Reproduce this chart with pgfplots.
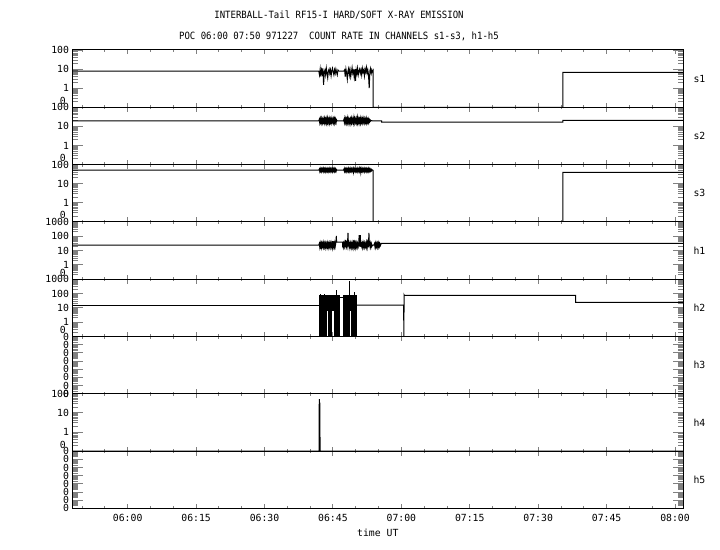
\documentclass[border=0pt]{standalone}
\usepackage{fontspec}
\setmainfont{DejaVu Sans Mono}
\newfontfamily\titlefont[FakeStretch=0.9]{DejaVu Sans Mono}
\usepackage{pgfplots}
\pgfplotsset{compat=1.18}
\pgfplotsset{
  mypanel/.style={
    anchor=north west,
    scale only axis, width=610.5bp, height=57.3bp,
    xmin=347.9, xmax=481.75,
    xtick={360,375,390,405,420,435,450,465,480},
    minor xtick={350,355,365,370,380,385,395,400,410,415,425,430,440,445,455,460,470,475},
    xticklabels={},
    tick align=inside,
    xtick pos=both, ytick pos=both,
    xtick style={/pgfplots/major tick length=4.5bp, /pgfplots/minor tick length=2.2bp},
    ytick style={/pgfplots/major tick length=10bp, /pgfplots/minor tick length=5bp},
    every tick/.append style={line width=0.9bp},
    axis line style={line width=1bp},
    tick label style={font=\fontsize{9.8bp}{10bp}\selectfont},
    clip mode=individual,
  },
  typeA/.style={
    ymin=0.1, ymax=100,
    ytick={1,10,100}, yticklabels={1,10,100},
    minor ytick={0.2,0.3,0.4,0.5,0.6,0.7,0.8,0.9,2,3,4,5,6,7,8,9,20,30,40,50,60,70,80,90},
  },
  typeB/.style={
    ymin=0.1, ymax=1000,
    ytick={1,10,100,1000}, yticklabels={1,10,100,1000},
    minor ytick={0.2,0.3,0.4,0.5,0.6,0.7,0.8,0.9,2,3,4,5,6,7,8,9,20,30,40,50,60,70,80,90,200,300,400,500,600,700,800,900},
  },
  typeC/.style={
    ymin=1e-7, ymax=1,
    ytick={1e-7,1e-6,1e-5,1e-4,1e-3,1e-2,1e-1,1}, yticklabels={0,0,0,0,0,0,0,0},
    minor ytick={2e-7,3e-7,4e-7,5e-7,6e-7,7e-7,8e-7,9e-7,
      2e-6,3e-6,4e-6,5e-6,6e-6,7e-6,8e-6,9e-6,
      2e-5,3e-5,4e-5,5e-5,6e-5,7e-5,8e-5,9e-5,
      2e-4,3e-4,4e-4,5e-4,6e-4,7e-4,8e-4,9e-4,
      2e-3,3e-3,4e-3,5e-3,6e-3,7e-3,8e-3,9e-3,
      2e-2,3e-2,4e-2,5e-2,6e-2,7e-2,8e-2,9e-2,
      0.2,0.3,0.4,0.5,0.6,0.7,0.8,0.9},
  },
  dat/.style={black, line width=1bp, mark=none},
}
\newcommand{\chlabel}[1]{\node[anchor=west, font=\fontsize{9.8bp}{10bp}\selectfont, xshift=7bp] at (rel axis cs:1,0.5) {#1};}
\newcommand{\zerolabel}{\node[anchor=east, font=\fontsize{9.8bp}{10bp}\selectfont, xshift=-3.3bp, yshift=6.5bp] at (rel axis cs:0,0) {0};}
\begin{document}
\begin{tikzpicture}
\path[use as bounding box] (0,0) rectangle (720bp,550bp);
\node[font=\titlefont\fontsize{10bp}{12bp}\selectfont] at (339bp,535bp) {INTERBALL-Tail RF15-I HARD/SOFT X-RAY EMISSION};
\node[font=\titlefont\fontsize{10bp}{12bp}\selectfont] at (339bp,514bp) {POC 06:00 07:50 971227\ \ COUNT RATE IN CHANNELS s1-s3, h1-h5};

% s1
\begin{axis}[ymode=log, at={(72.5bp,500bp)}, mypanel, typeA]
\addplot[dat] coordinates {(347.9,7.8) (401.9,7.8)
(401.9,8) (402.05,5) (402.2,10) (402.35,4) (402.5,9) (402.65,6) (402.8,11) (402.95,1.5) (403.1,7) (403.25,9) (403.4,5) (403.55,11) (403.7,6) (403.85,3.5) (404.0,8) (404.15,10) (404.3,6) (404.45,9) (404.6,4.5) (404.75,8) (404.9,11) (405.05,7) (405.2,5) (405.35,9) (405.5,6) (405.65,10) (405.8,7) (405.95,5) (406.1,9) (406.3,7.8) (407.4,7.8)
(407.55,9) (407.7,4) (407.85,10) (408.0,6) (408.15,3) (408.3,8) (408.45,11) (408.6,5) (408.75,9) (408.9,4) (409.05,7) (409.2,12) (409.35,6) (409.5,8) (409.65,4) (409.8,10) (409.95,2.4) (410.1,9) (410.25,6) (410.4,11) (410.55,5) (410.7,8) (410.85,10) (411.0,6) (411.15,9) (411.3,5) (411.45,11) (411.6,7) (411.75,9) (411.9,4.5) (412.05,10) (412.2,7) (412.35,12) (412.5,6) (412.65,9) (412.8,5) (412.95,1.0) (413.1,8) (413.25,11) (413.4,6) (413.55,9) (413.7,7) (413.8,8)
(413.8,0.1) (455.4,0.1) (455.4,6.8) (481.75,6.8)};
\chlabel{s1}
\zerolabel
\end{axis}

% s2
\begin{axis}[ymode=log, at={(72.5bp,442.7bp)}, mypanel, typeA]
\addplot[dat] coordinates {(347.9,19.7) (401.9,19.7)
(402.0,23) (402.1,16) (402.2,24) (402.3,17) (402.4,25) (402.5,16) (402.6,23) (402.7,15.5) (402.8,22) (402.9,17) (403.0,24) (403.1,16) (403.2,25) (403.3,17) (403.4,23) (403.5,15.5) (403.6,24) (403.7,16) (403.8,26) (403.9,17) (404.0,23) (404.1,16) (404.2,24) (404.3,15.5) (404.4,23) (404.5,17) (404.6,25) (404.7,16) (404.8,22) (404.9,17) (405.0,24) (405.1,16) (405.2,23) (405.3,15.5) (405.4,24) (405.5,17) (405.6,23) (405.7,16) (405.8,22) (405.9,19.7) (407.3,19.7)
(407.4,23) (407.5,16) (407.6,25) (407.7,17) (407.8,24) (407.9,15.5) (408.0,23) (408.1,16) (408.2,26) (408.3,17) (408.4,24) (408.5,16) (408.6,29) (408.7,17) (408.8,23) (408.9,15.5) (409.0,25) (409.1,16) (409.2,24) (409.3,17) (409.4,23) (409.5,15.5) (409.6,27) (409.7,16) (409.8,24) (409.9,17) (410.0,23) (410.1,16) (410.2,25) (410.3,17) (410.4,28) (410.5,16) (410.6,24) (410.7,17) (410.8,23) (410.9,15.5) (411.0,25) (411.1,16) (411.2,24) (411.3,17) (411.4,23) (411.5,16) (411.6,25) (411.7,17) (411.8,23) (411.9,16) (412.0,24) (412.1,17) (412.2,23) (412.3,16) (412.4,25) (412.5,17) (412.6,22) (412.7,16) (412.8,23) (412.9,17) (413.0,22) (413.1,18) (413.2,21) (413.3,19) (413.45,20)
(413.6,19.7) (415.7,19.7) (415.7,16.8) (455.4,16.8) (455.4,20.5) (481.75,20.5)};
\chlabel{s2}
\zerolabel
\end{axis}

% s3
\begin{axis}[ymode=log, at={(72.5bp,385.4bp)}, mypanel, typeA]
\addplot[dat] coordinates {(347.9,52) (401.9,52)
(402.0,58) (402.1,45) (402.2,60) (402.3,46) (402.4,57) (402.5,44) (402.6,59) (402.7,47) (402.8,58) (402.9,45) (403.0,61) (403.1,46) (403.2,57) (403.3,44) (403.4,60) (403.5,47) (403.6,58) (403.7,45) (403.8,59) (403.9,46) (404.0,57) (404.1,44) (404.2,60) (404.3,47) (404.4,58) (404.5,45) (404.6,59) (404.7,46) (404.8,57) (404.9,44) (405.0,60) (405.1,47) (405.2,58) (405.3,45) (405.4,59) (405.5,46) (405.6,57) (405.7,45) (405.8,55) (405.9,52) (407.3,52)
(407.4,58) (407.5,45) (407.6,60) (407.7,46) (407.8,57) (407.9,44) (408.0,59) (408.1,47) (408.2,58) (408.3,45) (408.4,61) (408.5,46) (408.6,57) (408.7,44) (408.8,60) (408.9,47) (409.0,58) (409.1,45) (409.2,59) (409.3,46) (409.4,57) (409.5,40) (409.6,60) (409.7,47) (409.8,58) (409.9,45) (410.0,59) (410.1,46) (410.2,57) (410.3,44) (410.4,60) (410.5,47) (410.6,58) (410.7,45) (410.8,62) (410.9,46) (411.0,57) (411.1,38) (411.2,60) (411.3,47) (411.4,58) (411.5,45) (411.6,59) (411.7,46) (411.8,57) (411.9,44) (412.0,60) (412.1,47) (412.2,58) (412.3,45) (412.4,59) (412.5,46) (412.6,57) (412.7,44) (412.8,60) (412.9,47) (413.0,58) (413.1,45) (413.2,56) (413.3,47) (413.4,55) (413.5,48) (413.6,53) (413.8,50)
(413.8,0.1) (455.4,0.1) (455.4,39) (481.75,39)};
\chlabel{s3}
\zerolabel
\end{axis}

% h1
\begin{axis}[ymode=log, at={(72.5bp,328.1bp)}, mypanel, typeB]
\addplot[dat] coordinates {(347.9,24) (401.9,24)
(402.0,30) (402.1,18) (402.2,32) (402.3,19) (402.4,29) (402.5,17) (402.6,31) (402.7,20) (402.8,30) (402.9,18) (403.0,33) (403.1,19) (403.2,29) (403.3,17) (403.4,31) (403.5,20) (403.6,30) (403.7,18) (403.8,32) (403.9,19) (404.0,29) (404.1,17) (404.2,31) (404.3,20) (404.4,30) (404.5,18) (404.6,32) (404.7,19) (404.8,29) (404.9,17) (405.0,45) (405.1,20) (405.2,30) (405.3,18) (405.4,32) (405.5,19) (405.6,29) (405.75,107) (405.8,39) (407.1,39)
(407.1,24) (407.2,31) (407.3,18) (407.4,30) (407.5,19) (407.6,32) (407.7,17) (407.8,55) (407.9,20) (408.0,30) (408.1,18) (408.2,32) (408.3,172) (408.35,19) (408.45,31) (408.55,17) (408.65,30) (408.75,20) (408.85,32) (408.95,18) (409.05,29) (409.15,16.6) (409.25,31) (409.35,19) (409.45,30) (409.55,18) (409.65,55) (409.75,20) (409.85,31) (409.95,17) (410.05,30) (410.15,19) (410.25,32) (410.35,18) (410.45,29) (410.55,20) (410.65,31) (410.75,120) (410.85,19) (410.95,30) (411.0,120) (411.1,18) (411.2,31) (411.3,20) (411.4,29) (411.5,17) (411.6,32) (411.7,19) (411.8,30) (411.9,18) (412.0,31) (412.1,20) (412.2,29) (412.3,18) (412.45,60) (412.55,19) (412.65,31) (412.75,17) (412.9,172) (412.95,20) (413.05,30) (413.15,18) (413.25,31) (413.35,19) (413.45,29) (413.55,20) (413.7,24) (414.0,24) (414.1,30) (414.2,19) (414.3,31) (414.4,18) (414.5,30) (414.6,20) (414.7,29) (414.8,18) (414.9,31) (415.0,19) (415.1,30) (415.2,20) (415.3,29) (415.4,22) (415.6,31.6)
(481.75,31.6)};
\chlabel{h1}
\zerolabel
\end{axis}

% h2
\begin{axis}[ymode=log, at={(72.5bp,270.8bp)}, mypanel, typeB]
\addplot[dat, fill=black] coordinates {(401.97,78) (406.51,78) (406.51,0.1) (405.26,0.1) (405.26,6.9) (404.69,6.9) (404.69,0.1) (403.94,0.1) (403.94,6.9) (403.59,6.9) (403.59,0.1) (401.97,0.1) (401.97,78)};
\addplot[dat, fill=black] coordinates {(407.23,78) (410.16,78) (410.16,0.1) (409.07,0.1) (409.07,6.9) (408.54,6.9) (408.54,0.1) (408.32,0.1) (408.32,6.9) (408.11,6.9) (408.11,0.1) (407.23,0.1) (407.23,78)};
\addplot[dat] coordinates {(402.3,78) (402.3,95)};
\addplot[dat] coordinates {(403.2,78) (403.2,92)};
\addplot[dat] coordinates {(405.8,78) (405.8,175)};
\addplot[dat] coordinates {(408.6,78) (408.6,750)};
\addplot[dat] coordinates {(409.8,78) (409.8,130)};
\addplot[dat] coordinates {(347.9,15.5) (401.97,15.5)};
\addplot[dat] coordinates {(406.51,54) (407.23,54)};
\addplot[dat] coordinates {(410.16,15.5) (420.5,15.5) (420.55,0.1) (420.6,80) (420.65,74) (458.2,74) (458.2,24) (481.75,24)};
\chlabel{h2}
\zerolabel
\end{axis}

% h3
\begin{axis}[ymode=log, at={(72.5bp,213.5bp)}, mypanel, typeC]
\chlabel{h3}
\end{axis}

% h4
\begin{axis}[ymode=log, at={(72.5bp,156.2bp)}, mypanel, typeA]
\addplot[dat] coordinates {(347.9,0.1) (401.98,0.1) (402.0,53) (402.05,0.1) (402.12,34) (402.18,0.1) (481.75,0.1)};
\chlabel{h4}
\zerolabel
\end{axis}

% h5
\begin{axis}[ymode=log, at={(72.5bp,98.9bp)}, mypanel, typeC,
  xticklabels={06:00,06:15,06:30,06:45,07:00,07:15,07:30,07:45,08:00},
  xticklabel style={yshift=-2bp},
  xlabel={time UT}, xlabel style={font=\fontsize{9.8bp}{10bp}\selectfont, yshift=-1bp}]
\chlabel{h5}
\end{axis}
\end{tikzpicture}
\end{document}
